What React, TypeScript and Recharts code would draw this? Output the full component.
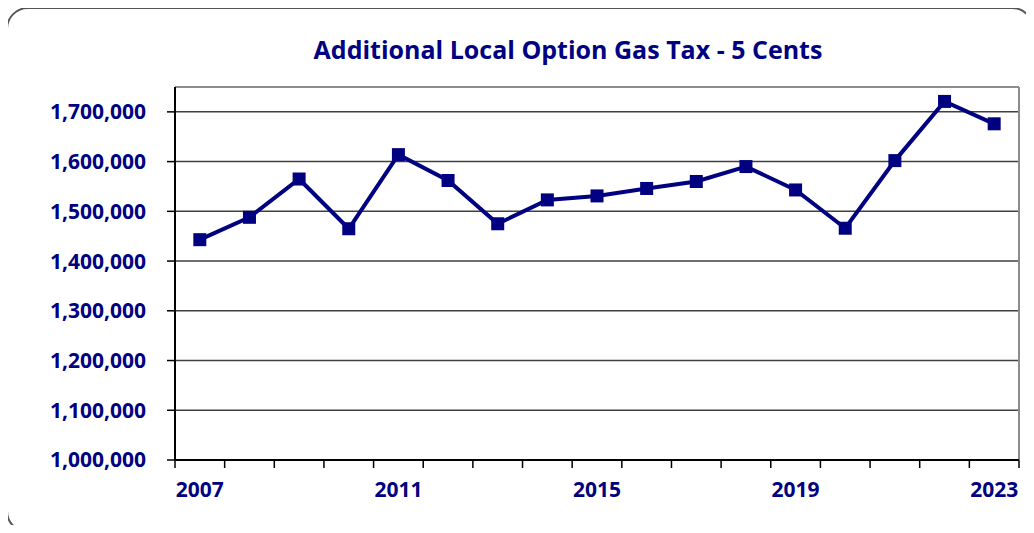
import {
  LineChart,
  Line,
  XAxis,
  YAxis,
  CartesianGrid,
  ReferenceLine,
} from "recharts";

const years = [
  2007, 2008, 2009, 2010, 2011, 2012, 2013, 2014, 2015, 2016, 2017, 2018,
  2019, 2020, 2021, 2022, 2023,
];

const gasTax = [
  1443000, 1488000, 1565000, 1465000, 1614000, 1562000, 1475000, 1523000,
  1531000, 1546000, 1560000, 1590000, 1543000, 1466000, 1602000, 1721000,
  1676000,
];

const yearLabels = [2007, 2011, 2015, 2019, 2023];
const yTicks = [
  1000000, 1100000, 1200000, 1300000, 1400000, 1500000, 1600000, 1700000,
];
const yMax = 1750000;

const data = years.map((year, i) => ({ year, value: gasTax[i] }));

// category boundaries for the small tick marks under the axis
const boundaries = [...years.map((y) => y - 0.5), years[years.length - 1] + 0.5];
const xDomain = [boundaries[0], boundaries[boundaries.length - 1]];

const navy = "#000080";
const labelFont = "'Open Sans', 'Noto Sans', sans-serif";

const SquareDot = (props: any) => {
  const { cx, cy } = props;
  if (cx == null || cy == null) return null;
  return <rect x={cx - 6.5} y={cy - 6.5} width={13} height={13} fill={navy} />;
};

export default function App() {
  return (
    <div
      style={{
        position: "relative",
        width: 1034,
        height: 533,
        margin: -8,
        overflow: "hidden",
        background: "#fff",
      }}
    >
      <div
        style={{
          position: "absolute",
          left: 568 - 300,
          width: 600,
          top: 33,
          textAlign: "center",
          fontFamily: labelFont,
          fontWeight: "bold",
          fontSize: 25,
          color: navy,
          lineHeight: "32px",
        }}
      >
        Additional Local Option Gas Tax - 5 Cents
      </div>
      <div style={{ position: "absolute", left: 0, top: 0 }}>
        <LineChart
          width={1034}
          height={533}
          data={data}
          margin={{ top: 87, right: 15, left: 0, bottom: 32 }}
        >
          <CartesianGrid
            vertical={false}
            stroke="#404040"
            strokeWidth={1.5}
          />
          <XAxis
            dataKey="year"
            type="number"
            domain={xDomain}
            ticks={boundaries}
            interval={0}
            tickFormatter={() => " "}
            height={1}
            tickSize={8}
            axisLine={{ stroke: "#000", strokeWidth: 2 }}
            tickLine={{ stroke: "#000", strokeWidth: 1.5 }}
          />
          <XAxis
            xAxisId="labels"
            dataKey="year"
            type="number"
            domain={xDomain}
            ticks={yearLabels}
            interval={0}
            height={40}
            tickSize={7}
            tickMargin={14}
            axisLine={false}
            tickLine={false}
            tick={{
              fill: navy,
              fontSize: 21,
              fontWeight: "bold",
              fontFamily: labelFont,
            }}
          />
          <YAxis
            domain={[yTicks[0], yMax]}
            ticks={yTicks}
            interval={0}
            width={175}
            tickSize={8}
            tickMargin={21}
            tickFormatter={(v: number) => v.toLocaleString("en-US")}
            axisLine={{ stroke: "#000", strokeWidth: 2 }}
            tickLine={{ stroke: "#000", strokeWidth: 1.5 }}
            tick={{
              fill: navy,
              fontSize: 21,
              fontWeight: "bold",
              fontFamily: labelFont,
            }}
          />
          <ReferenceLine y={yMax} stroke="#8c8c8c" strokeWidth={2} />
          <ReferenceLine x={xDomain[1]} stroke="#8c8c8c" strokeWidth={2} />
          <Line
            dataKey="value"
            stroke={navy}
            strokeWidth={4}
            dot={<SquareDot />}
            activeDot={false}
            isAnimationActive={false}
          />
        </LineChart>
      </div>
      <div
        style={{
          position: "absolute",
          left: 6,
          top: 7,
          width: 1028,
          height: 526,
          border: "2px solid #555",
          borderRadius: 22,
          boxSizing: "border-box",
          pointerEvents: "none",
        }}
      />
    </div>
  );
}
